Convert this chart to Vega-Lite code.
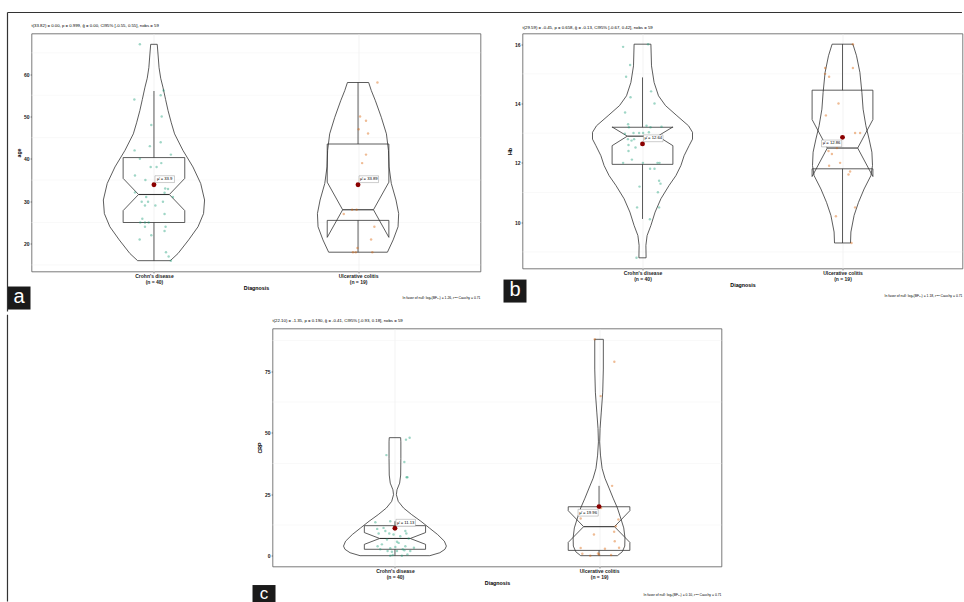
{
  "$schema": "https://vega.github.io/schema/vega-lite/v6.json",
  "padding": {"left": 5.5, "top": 10.5, "right": 0, "bottom": 0},
  "background": "white",
  "config": {
    "font": "Liberation Sans",
    "view": {"stroke": "#595959", "strokeWidth": 0.8},
    "axis": {
      "labelFont": "Liberation Sans", "labelFontSize": 5, "labelFontWeight": "bold", "labelColor": "#1a1a1a", "labelOverlap": false,
      "titleFont": "Liberation Sans", "titleFontSize": 5.3, "titleFontWeight": "bold", "titleColor": "#000000",
      "domain": false, "tickColor": "#333333", "tickSize": 1.5, "tickWidth": 0.5, "labelPadding": 1,
      "gridWidth": 0.6, "gridColor": "#e3e3e3"
    },
    "axisX": {"labelLineHeight": 6, "labelPadding": 0.5, "titlePadding": 1, "labelAngle": 0, "gridColor": "#ebebeb"},
    "axisY": {"titlePadding": 2}
  },
  "datasets": {
    "violins": [
      {"p":"a","g":1,"y":16.0,"l":0.920,"r":1.080},{"p":"a","g":1,"y":17.7,"l":0.882,"r":1.118},{"p":"a","g":1,"y":20.9,"l":0.830,"r":1.170},{"p":"a","g":1,"y":24.0,"l":0.784,"r":1.216},{"p":"a","g":1,"y":27.1,"l":0.757,"r":1.243},{"p":"a","g":1,"y":30.3,"l":0.752,"r":1.248},{"p":"a","g":1,"y":34.2,"l":0.771,"r":1.229},{"p":"a","g":1,"y":38.1,"l":0.809,"r":1.191},{"p":"a","g":1,"y":42.0,"l":0.858,"r":1.142},{"p":"a","g":1,"y":45.9,"l":0.899,"r":1.101},{"p":"a","g":1,"y":48.5,"l":0.915,"r":1.085},{"p":"a","g":1,"y":51.4,"l":0.931,"r":1.069},{"p":"a","g":1,"y":54.0,"l":0.943,"r":1.057},{"p":"a","g":1,"y":56.9,"l":0.956,"r":1.044},{"p":"a","g":1,"y":59.0,"l":0.967,"r":1.033},{"p":"a","g":1,"y":61.5,"l":0.975,"r":1.025},{"p":"a","g":1,"y":64.0,"l":0.979,"r":1.021},{"p":"a","g":1,"y":67.0,"l":0.984,"r":1.016},
      {"p":"a","g":2,"y":18.0,"l":1.856,"r":2.144},{"p":"a","g":2,"y":20.9,"l":1.828,"r":2.172},{"p":"a","g":2,"y":24.0,"l":1.804,"r":2.196},{"p":"a","g":2,"y":27.1,"l":1.801,"r":2.199},{"p":"a","g":2,"y":30.3,"l":1.814,"r":2.186},{"p":"a","g":2,"y":34.2,"l":1.837,"r":2.163},{"p":"a","g":2,"y":38.1,"l":1.848,"r":2.152},{"p":"a","g":2,"y":42.0,"l":1.851,"r":2.149},{"p":"a","g":2,"y":45.9,"l":1.861,"r":2.139},{"p":"a","g":2,"y":49.8,"l":1.886,"r":2.114},{"p":"a","g":2,"y":53.7,"l":1.915,"r":2.085},{"p":"a","g":2,"y":56.1,"l":1.935,"r":2.065},{"p":"a","g":2,"y":58.0,"l":1.948,"r":2.052},
      {"p":"b","g":1,"y":8.80,"l":0.982,"r":1.018},{"p":"b","g":1,"y":9.22,"l":0.983,"r":1.017},{"p":"b","g":1,"y":9.55,"l":0.977,"r":1.023},{"p":"b","g":1,"y":9.89,"l":0.958,"r":1.042},{"p":"b","g":1,"y":10.34,"l":0.937,"r":1.063},{"p":"b","g":1,"y":10.79,"l":0.908,"r":1.092},{"p":"b","g":1,"y":11.24,"l":0.867,"r":1.133},{"p":"b","g":1,"y":11.57,"l":0.833,"r":1.167},{"p":"b","g":1,"y":11.91,"l":0.808,"r":1.192},{"p":"b","g":1,"y":12.24,"l":0.792,"r":1.208},{"p":"b","g":1,"y":12.58,"l":0.767,"r":1.233},{"p":"b","g":1,"y":12.80,"l":0.750,"r":1.250},{"p":"b","g":1,"y":13.03,"l":0.750,"r":1.250},{"p":"b","g":1,"y":13.25,"l":0.770,"r":1.230},{"p":"b","g":1,"y":13.59,"l":0.828,"r":1.172},{"p":"b","g":1,"y":13.93,"l":0.885,"r":1.115},{"p":"b","g":1,"y":14.26,"l":0.920,"r":1.080},{"p":"b","g":1,"y":14.71,"l":0.942,"r":1.058},{"p":"b","g":1,"y":15.27,"l":0.955,"r":1.045},{"p":"b","g":1,"y":16.00,"l":0.958,"r":1.042},
      {"p":"b","g":2,"y":9.30,"l":1.960,"r":2.040},{"p":"b","g":2,"y":9.67,"l":1.958,"r":2.042},{"p":"b","g":2,"y":10.23,"l":1.942,"r":2.058},{"p":"b","g":2,"y":10.67,"l":1.920,"r":2.080},{"p":"b","g":2,"y":11.12,"l":1.892,"r":2.108},{"p":"b","g":2,"y":11.57,"l":1.858,"r":2.142},{"p":"b","g":2,"y":11.91,"l":1.850,"r":2.150},{"p":"b","g":2,"y":12.36,"l":1.853,"r":2.147},{"p":"b","g":2,"y":12.80,"l":1.867,"r":2.133},{"p":"b","g":2,"y":13.25,"l":1.883,"r":2.117},{"p":"b","g":2,"y":13.81,"l":1.897,"r":2.103},{"p":"b","g":2,"y":14.37,"l":1.903,"r":2.097},{"p":"b","g":2,"y":15.05,"l":1.913,"r":2.087},{"p":"b","g":2,"y":15.61,"l":1.930,"r":2.070},{"p":"b","g":2,"y":16.00,"l":1.948,"r":2.052},
      {"p":"c","g":1,"y":0.0,"l":0.829,"r":1.171},{"p":"c","g":1,"y":1.2,"l":0.780,"r":1.220},{"p":"c","g":1,"y":2.6,"l":0.755,"r":1.245},{"p":"c","g":1,"y":3.9,"l":0.748,"r":1.252},{"p":"c","g":1,"y":5.9,"l":0.758,"r":1.242},{"p":"c","g":1,"y":8.6,"l":0.791,"r":1.209},{"p":"c","g":1,"y":11.3,"l":0.832,"r":1.168},{"p":"c","g":1,"y":14.0,"l":0.873,"r":1.127},{"p":"c","g":1,"y":16.7,"l":0.918,"r":1.082},{"p":"c","g":1,"y":19.4,"l":0.958,"r":1.042},{"p":"c","g":1,"y":22.1,"l":0.984,"r":1.016},{"p":"c","g":1,"y":24.8,"l":0.993,"r":1.007},{"p":"c","g":1,"y":26.8,"l":0.990,"r":1.010},{"p":"c","g":1,"y":29.5,"l":0.977,"r":1.023},{"p":"c","g":1,"y":32.8,"l":0.972,"r":1.028},{"p":"c","g":1,"y":39.6,"l":0.971,"r":1.029},{"p":"c","g":1,"y":46.3,"l":0.971,"r":1.029},{"p":"c","g":1,"y":48.0,"l":0.972,"r":1.028},
      {"p":"c","g":2,"y":0.0,"l":1.910,"r":2.090},{"p":"c","g":2,"y":1.6,"l":1.886,"r":2.114},{"p":"c","g":2,"y":3.9,"l":1.874,"r":2.126},{"p":"c","g":2,"y":7.3,"l":1.873,"r":2.127},{"p":"c","g":2,"y":11.3,"l":1.879,"r":2.121},{"p":"c","g":2,"y":15.3,"l":1.894,"r":2.106},{"p":"c","g":2,"y":19.4,"l":1.910,"r":2.090},{"p":"c","g":2,"y":23.4,"l":1.931,"r":2.069},{"p":"c","g":2,"y":27.5,"l":1.951,"r":2.049},{"p":"c","g":2,"y":31.5,"l":1.971,"r":2.029},{"p":"c","g":2,"y":35.5,"l":1.985,"r":2.015},{"p":"c","g":2,"y":40.9,"l":1.993,"r":2.007},{"p":"c","g":2,"y":46.3,"l":1.997,"r":2.003},{"p":"c","g":2,"y":51.7,"l":1.995,"r":2.005},{"p":"c","g":2,"y":58.4,"l":1.989,"r":2.011},{"p":"c","g":2,"y":66.5,"l":1.982,"r":2.018},{"p":"c","g":2,"y":75.9,"l":1.979,"r":2.021},{"p":"c","g":2,"y":88.0,"l":1.979,"r":2.021}
    ],
    "boxes": [
      {"p":"a","g":1,"k":1,"bx":0.849,"by":25.0},{"p":"a","g":1,"k":2,"bx":0.849,"by":27.8},{"p":"a","g":1,"k":3,"bx":0.9245,"by":31.6},{"p":"a","g":1,"k":4,"bx":0.849,"by":35.4},{"p":"a","g":1,"k":5,"bx":0.849,"by":40.3},{"p":"a","g":1,"k":6,"bx":1.151,"by":40.3},{"p":"a","g":1,"k":7,"bx":1.151,"by":35.4},{"p":"a","g":1,"k":8,"bx":1.0755,"by":31.6},{"p":"a","g":1,"k":9,"bx":1.151,"by":27.8},{"p":"a","g":1,"k":10,"bx":1.151,"by":25.0},{"p":"a","g":1,"k":11,"bx":0.849,"by":25.0},
      {"p":"a","g":2,"k":1,"bx":1.849,"by":25.5},{"p":"a","g":2,"k":2,"bx":1.849,"by":21.5},{"p":"a","g":2,"k":3,"bx":1.9245,"by":28.0},{"p":"a","g":2,"k":4,"bx":1.849,"by":34.5},{"p":"a","g":2,"k":5,"bx":1.849,"by":43.5},{"p":"a","g":2,"k":6,"bx":2.151,"by":43.5},{"p":"a","g":2,"k":7,"bx":2.151,"by":34.5},{"p":"a","g":2,"k":8,"bx":2.0755,"by":28.0},{"p":"a","g":2,"k":9,"bx":2.151,"by":21.5},{"p":"a","g":2,"k":10,"bx":2.151,"by":25.5},{"p":"a","g":2,"k":11,"bx":1.849,"by":25.5},
      {"p":"b","g":1,"k":1,"bx":0.848,"by":11.95},{"p":"b","g":1,"k":2,"bx":0.848,"by":12.58},{"p":"b","g":1,"k":3,"bx":0.924,"by":12.9},{"p":"b","g":1,"k":4,"bx":0.848,"by":13.21},{"p":"b","g":1,"k":5,"bx":0.848,"by":13.2},{"p":"b","g":1,"k":6,"bx":1.152,"by":13.2},{"p":"b","g":1,"k":7,"bx":1.152,"by":13.21},{"p":"b","g":1,"k":8,"bx":1.076,"by":12.9},{"p":"b","g":1,"k":9,"bx":1.152,"by":12.58},{"p":"b","g":1,"k":10,"bx":1.152,"by":11.95},{"p":"b","g":1,"k":11,"bx":0.848,"by":11.95},
      {"p":"b","g":2,"k":1,"bx":1.848,"by":11.8},{"p":"b","g":2,"k":2,"bx":1.848,"by":11.54},{"p":"b","g":2,"k":3,"bx":1.924,"by":12.5},{"p":"b","g":2,"k":4,"bx":1.848,"by":13.46},{"p":"b","g":2,"k":5,"bx":1.848,"by":14.45},{"p":"b","g":2,"k":6,"bx":2.152,"by":14.45},{"p":"b","g":2,"k":7,"bx":2.152,"by":13.46},{"p":"b","g":2,"k":8,"bx":2.076,"by":12.5},{"p":"b","g":2,"k":9,"bx":2.152,"by":11.54},{"p":"b","g":2,"k":10,"bx":2.152,"by":11.8},{"p":"b","g":2,"k":11,"bx":1.848,"by":11.8},
      {"p":"c","g":1,"k":1,"bx":0.85,"by":2.6},{"p":"c","g":1,"k":2,"bx":0.85,"by":4.6},{"p":"c","g":1,"k":3,"bx":0.925,"by":7.0},{"p":"c","g":1,"k":4,"bx":0.85,"by":9.4},{"p":"c","g":1,"k":5,"bx":0.85,"by":12.2},{"p":"c","g":1,"k":6,"bx":1.15,"by":12.2},{"p":"c","g":1,"k":7,"bx":1.15,"by":9.4},{"p":"c","g":1,"k":8,"bx":1.075,"by":7.0},{"p":"c","g":1,"k":9,"bx":1.15,"by":4.6},{"p":"c","g":1,"k":10,"bx":1.15,"by":2.6},{"p":"c","g":1,"k":11,"bx":0.85,"by":2.6},
      {"p":"c","g":2,"k":1,"bx":1.849,"by":2.15},{"p":"c","g":2,"k":2,"bx":1.849,"by":5.4},{"p":"c","g":2,"k":3,"bx":1.9245,"by":11.8},{"p":"c","g":2,"k":4,"bx":1.849,"by":18.3},{"p":"c","g":2,"k":5,"bx":1.849,"by":19.9},{"p":"c","g":2,"k":6,"bx":2.151,"by":19.9},{"p":"c","g":2,"k":7,"bx":2.151,"by":18.3},{"p":"c","g":2,"k":8,"bx":2.0755,"by":11.8},{"p":"c","g":2,"k":9,"bx":2.151,"by":5.4},{"p":"c","g":2,"k":10,"bx":2.151,"by":2.15},{"p":"c","g":2,"k":11,"bx":1.849,"by":2.15}
    ],
    "stats": [
      {"p":"a","g":1,"c":1,"q1":25.0,"q3":40.3,"med":31.6,"wlo":16.0,"whi":56.0,"ml":0.9245,"mr":1.0755,"mean":33.9,"lab":"μ̂ = 33.9"},
      {"p":"a","g":2,"c":2,"q1":25.5,"q3":43.5,"med":28.0,"wlo":18.0,"whi":58.0,"ml":1.9245,"mr":2.0755,"mean":33.89,"lab":"μ̂ = 33.89"},
      {"p":"b","g":1,"c":1,"q1":11.95,"q3":13.2,"med":12.9,"wlo":10.11,"whi":14.88,"ml":0.924,"mr":1.076,"mean":12.64,"lab":"μ̂ = 12.64"},
      {"p":"b","g":2,"c":2,"q1":11.8,"q3":14.45,"med":12.5,"wlo":9.3,"whi":16.0,"ml":1.924,"mr":2.076,"mean":12.86,"lab":"μ̂ = 12.86"},
      {"p":"c","g":1,"c":1,"q1":2.6,"q3":12.2,"med":7.0,"wlo":0.0,"whi":14.0,"ml":0.925,"mr":1.075,"mean":11.13,"lab":"μ̂ = 11.13"},
      {"p":"c","g":2,"c":2,"q1":2.15,"q3":19.9,"med":11.8,"wlo":0.0,"whi":28.4,"ml":1.9245,"mr":2.0755,"mean":19.96,"lab":"μ̂ = 19.96"}
    ],
    "points": [
      {"p":"a","g":1,"xj":0.931,"v":67.0},{"p":"a","g":1,"xj":0.904,"v":54.0},{"p":"a","g":1,"xj":1.047,"v":56.1},{"p":"a","g":1,"xj":1.033,"v":55.0},{"p":"a","g":1,"xj":1.038,"v":50.0},{"p":"a","g":1,"xj":0.987,"v":48.0},{"p":"a","g":1,"xj":0.980,"v":43.0},{"p":"a","g":1,"xj":1.033,"v":43.9},{"p":"a","g":1,"xj":1.083,"v":41.0},{"p":"a","g":1,"xj":0.905,"v":42.0},{"p":"a","g":1,"xj":0.931,"v":40.0},{"p":"a","g":1,"xj":1.036,"v":39.0},{"p":"a","g":1,"xj":0.984,"v":38.1},{"p":"a","g":1,"xj":1.013,"v":38.1},{"p":"a","g":1,"xj":0.907,"v":36.1},{"p":"a","g":1,"xj":0.958,"v":35.0},{"p":"a","g":1,"xj":1.069,"v":32.9},{"p":"a","g":1,"xj":0.907,"v":32.1},{"p":"a","g":1,"xj":1.093,"v":31.0},{"p":"a","g":1,"xj":0.962,"v":31.0},{"p":"a","g":1,"xj":0.971,"v":29.9},{"p":"a","g":1,"xj":0.940,"v":29.9},{"p":"a","g":1,"xj":1.044,"v":29.9},{"p":"a","g":1,"xj":0.956,"v":29.0},{"p":"a","g":1,"xj":1.007,"v":29.0},{"p":"a","g":1,"xj":1.052,"v":27.0},{"p":"a","g":1,"xj":0.943,"v":25.9},{"p":"a","g":1,"xj":0.933,"v":25.0},{"p":"a","g":1,"xj":0.956,"v":25.0},{"p":"a","g":1,"xj":0.974,"v":25.0},{"p":"a","g":1,"xj":0.956,"v":24.0},{"p":"a","g":1,"xj":1.057,"v":24.0},{"p":"a","g":1,"xj":1.052,"v":23.0},{"p":"a","g":1,"xj":0.987,"v":22.0},{"p":"a","g":1,"xj":0.930,"v":21.0},{"p":"a","g":1,"xj":1.059,"v":18.0},{"p":"a","g":1,"xj":1.072,"v":17.0},{"p":"a","g":1,"xj":1.083,"v":16.0},{"p":"a","g":1,"xj":1.052,"v":32.0},{"p":"a","g":1,"xj":1.055,"v":33.0},
      {"p":"a","g":2,"xj":2.095,"v":58.0},{"p":"a","g":2,"xj":2.010,"v":50.0},{"p":"a","g":2,"xj":2.039,"v":49.0},{"p":"a","g":2,"xj":2.003,"v":47.0},{"p":"a","g":2,"xj":2.049,"v":46.0},{"p":"a","g":2,"xj":2.039,"v":41.0},{"p":"a","g":2,"xj":2.020,"v":39.0},{"p":"a","g":2,"xj":1.930,"v":27.0},{"p":"a","g":2,"xj":1.971,"v":28.0},{"p":"a","g":2,"xj":1.993,"v":28.0},{"p":"a","g":2,"xj":2.080,"v":24.0},{"p":"a","g":2,"xj":2.064,"v":21.0},{"p":"a","g":2,"xj":1.997,"v":19.0},{"p":"a","g":2,"xj":1.989,"v":18.0},{"p":"a","g":2,"xj":2.070,"v":18.0},{"p":"a","g":2,"xj":1.975,"v":18.0},
      {"p":"b","g":1,"xj":0.903,"v":15.91},{"p":"b","g":1,"xj":0.938,"v":15.30},{"p":"b","g":1,"xj":0.918,"v":14.90},{"p":"b","g":1,"xj":1.043,"v":14.41},{"p":"b","g":1,"xj":0.940,"v":14.21},{"p":"b","g":1,"xj":1.060,"v":14.00},{"p":"b","g":1,"xj":0.913,"v":13.70},{"p":"b","g":1,"xj":0.928,"v":13.30},{"p":"b","g":1,"xj":0.932,"v":13.20},{"p":"b","g":1,"xj":1.040,"v":13.20},{"p":"b","g":1,"xj":1.095,"v":13.22},{"p":"b","g":1,"xj":0.983,"v":13.01},{"p":"b","g":1,"xj":1.003,"v":13.01},{"p":"b","g":1,"xj":1.032,"v":13.03},{"p":"b","g":1,"xj":0.912,"v":12.98},{"p":"b","g":1,"xj":0.955,"v":13.01},{"p":"b","g":1,"xj":0.927,"v":12.80},{"p":"b","g":1,"xj":0.930,"v":12.60},{"p":"b","g":1,"xj":0.930,"v":12.40},{"p":"b","g":1,"xj":0.947,"v":12.11},{"p":"b","g":1,"xj":0.903,"v":12.00},{"p":"b","g":1,"xj":1.002,"v":12.00},{"p":"b","g":1,"xj":1.075,"v":12.00},{"p":"b","g":1,"xj":1.085,"v":12.00},{"p":"b","g":1,"xj":1.038,"v":11.80},{"p":"b","g":1,"xj":1.060,"v":11.80},{"p":"b","g":1,"xj":1.083,"v":11.40},{"p":"b","g":1,"xj":1.090,"v":11.30},{"p":"b","g":1,"xj":0.985,"v":11.20},{"p":"b","g":1,"xj":1.077,"v":11.01},{"p":"b","g":1,"xj":0.973,"v":10.50},{"p":"b","g":1,"xj":1.083,"v":10.50},{"p":"b","g":1,"xj":1.037,"v":10.10},{"p":"b","g":1,"xj":0.970,"v":8.80},{"p":"b","g":1,"xj":1.028,"v":16.00},{"p":"b","g":1,"xj":0.958,"v":12.80},{"p":"b","g":1,"xj":1.020,"v":13.25},{"p":"b","g":1,"xj":1.053,"v":12.86},{"p":"b","g":1,"xj":0.945,"v":12.75},{"p":"b","g":1,"xj":0.965,"v":12.52},
      {"p":"b","g":2,"xj":2.052,"v":16.0},{"p":"b","g":2,"xj":1.913,"v":15.20},{"p":"b","g":2,"xj":2.052,"v":15.20},{"p":"b","g":2,"xj":1.913,"v":15.00},{"p":"b","g":2,"xj":1.933,"v":14.90},{"p":"b","g":2,"xj":1.980,"v":14.00},{"p":"b","g":2,"xj":1.917,"v":13.60},{"p":"b","g":2,"xj":2.063,"v":13.01},{"p":"b","g":2,"xj":2.088,"v":13.01},{"p":"b","g":2,"xj":1.972,"v":12.50},{"p":"b","g":2,"xj":1.930,"v":12.40},{"p":"b","g":2,"xj":1.947,"v":12.30},{"p":"b","g":2,"xj":1.988,"v":12.00},{"p":"b","g":2,"xj":1.933,"v":11.90},{"p":"b","g":2,"xj":2.038,"v":11.71},{"p":"b","g":2,"xj":2.030,"v":11.61},{"p":"b","g":2,"xj":2.063,"v":10.50},{"p":"b","g":2,"xj":1.967,"v":10.20},{"p":"b","g":2,"xj":2.045,"v":9.30},
      {"p":"c","g":1,"xj":1.072,"v":48.0},{"p":"c","g":1,"xj":1.054,"v":47.2},{"p":"c","g":1,"xj":0.958,"v":40.9},{"p":"c","g":1,"xj":1.046,"v":38.1},{"p":"c","g":1,"xj":1.057,"v":31.9},{"p":"c","g":1,"xj":1.061,"v":31.9},{"p":"c","g":1,"xj":0.904,"v":13.6},{"p":"c","g":1,"xj":0.977,"v":14.0},{"p":"c","g":1,"xj":1.010,"v":12.7},{"p":"c","g":1,"xj":0.913,"v":10.9},{"p":"c","g":1,"xj":0.920,"v":9.0},{"p":"c","g":1,"xj":0.972,"v":9.0},{"p":"c","g":1,"xj":1.056,"v":9.0},{"p":"c","g":1,"xj":1.067,"v":7.0},{"p":"c","g":1,"xj":1.010,"v":5.7},{"p":"c","g":1,"xj":1.018,"v":5.2},{"p":"c","g":1,"xj":0.915,"v":3.8},{"p":"c","g":1,"xj":1.051,"v":3.8},{"p":"c","g":1,"xj":1.093,"v":3.2},{"p":"c","g":1,"xj":0.964,"v":1.9},{"p":"c","g":1,"xj":1.010,"v":1.9},{"p":"c","g":1,"xj":1.046,"v":2.2},{"p":"c","g":1,"xj":0.985,"v":1.6},{"p":"c","g":1,"xj":0.977,"v":0.0},{"p":"c","g":1,"xj":0.989,"v":0.3},{"p":"c","g":1,"xj":1.061,"v":0.5},{"p":"c","g":1,"xj":1.075,"v":1.9},{"p":"c","g":1,"xj":1.038,"v":2.6},{"p":"c","g":1,"xj":0.936,"v":4.6},{"p":"c","g":1,"xj":0.953,"v":10.0},{"p":"c","g":1,"xj":0.993,"v":8.6},{"p":"c","g":1,"xj":1.026,"v":7.9},{"p":"c","g":1,"xj":0.928,"v":2.6},{"p":"c","g":1,"xj":0.961,"v":6.6},{"p":"c","g":1,"xj":1.018,"v":14.0},{"p":"c","g":1,"xj":0.944,"v":11.3},{"p":"c","g":1,"xj":1.051,"v":10.0},{"p":"c","g":1,"xj":1.002,"v":3.5},{"p":"c","g":1,"xj":0.977,"v":3.0},{"p":"c","g":1,"xj":1.034,"v":0.0},
      {"p":"c","g":2,"xj":1.979,"v":88.0},{"p":"c","g":2,"xj":2.075,"v":78.9},{"p":"c","g":2,"xj":2.008,"v":64.9},{"p":"c","g":2,"xj":2.064,"v":28.4},{"p":"c","g":2,"xj":2.010,"v":19.4},{"p":"c","g":2,"xj":1.910,"v":15.1},{"p":"c","g":2,"xj":2.095,"v":14.7},{"p":"c","g":2,"xj":2.082,"v":12.0},{"p":"c","g":2,"xj":2.074,"v":9.7},{"p":"c","g":2,"xj":2.077,"v":5.9},{"p":"c","g":2,"xj":1.910,"v":3.1},{"p":"c","g":2,"xj":2.029,"v":2.8},{"p":"c","g":2,"xj":1.918,"v":0.8},{"p":"c","g":2,"xj":1.995,"v":0.9},{"p":"c","g":2,"xj":1.957,"v":0.0},{"p":"c","g":2,"xj":2.059,"v":0.3},{"p":"c","g":2,"xj":2.000,"v":0.5},{"p":"c","g":2,"xj":1.975,"v":8.6},{"p":"c","g":2,"xj":2.098,"v":3.2}
    ],
    "notes": [
      {"p":"a","tag":"a","sub":"t(33.82) = 0.00, p = 0.999, ĝ = 0.00, CI95% [-0.55, 0.55], nobs = 59","caption":"In favor of null: logₑ(BF₀₁) = 1.26, rᴶᶻˢ Cauchy = 0.71"},
      {"p":"b","tag":"b","sub":"t(29.59) = -0.45, p = 0.658, ĝ = -0.13, CI95% [-0.67, 0.42], nobs = 59","caption":"In favor of null: logₑ(BF₀₁) = 1.18, rᴶᶻˢ Cauchy = 0.71"},
      {"p":"c","tag":"c","sub":"t(22.10) = -1.35, p = 0.190, ĝ = -0.41, CI95% [-0.93, 0.18], nobs = 59","caption":"In favor of null: logₑ(BF₀₁) = 0.10, rᴶᶻˢ Cauchy = 0.71"}
    ]
  },
  "vconcat": [
    {
      "hconcat": [
        {
          "width": 449, "height": 238,
          "data": {"name": "notes"},
          "layer": [
            {"transform": [{"filter": "datum.p == 'a'"}], "mark": {"type": "rule", "stroke": "#f3f3f3", "strokeWidth": 0.5}, "encoding": {"y": {"datum": 15, "type": "quantitative"}}},
            {"transform": [{"filter": "datum.p == 'a'"}], "mark": {"type": "rule", "stroke": "#f3f3f3", "strokeWidth": 0.5}, "encoding": {"y": {"datum": 25, "type": "quantitative"}}},
            {"transform": [{"filter": "datum.p == 'a'"}], "mark": {"type": "rule", "stroke": "#f3f3f3", "strokeWidth": 0.5}, "encoding": {"y": {"datum": 35, "type": "quantitative"}}},
            {"transform": [{"filter": "datum.p == 'a'"}], "mark": {"type": "rule", "stroke": "#f3f3f3", "strokeWidth": 0.5}, "encoding": {"y": {"datum": 45, "type": "quantitative"}}},
            {"transform": [{"filter": "datum.p == 'a'"}], "mark": {"type": "rule", "stroke": "#f3f3f3", "strokeWidth": 0.5}, "encoding": {"y": {"datum": 55, "type": "quantitative"}}},
            {"transform": [{"filter": "datum.p == 'a'"}], "mark": {"type": "rule", "stroke": "#f3f3f3", "strokeWidth": 0.5}, "encoding": {"y": {"datum": 65, "type": "quantitative"}}},
            {"data": {"name": "violins"}, "transform": [{"filter": "datum.p == 'a'"}],
             "mark": {"type": "area", "orient": "horizontal", "fillOpacity": 0, "stroke": "#333333", "strokeWidth": 0.8},
             "encoding": {
               "y": {"field": "y", "type": "quantitative", "scale": {"domain": [13.45, 69.55], "nice": false, "zero": false},
                     "axis": {"title": "age", "values": [20, 30, 40, 50, 60], "labelOverlap": false, "format": "d"}},
               "x": {"field": "l", "type": "quantitative", "stack": null, "scale": {"domain": [0.4, 2.6], "nice": false, "zero": false},
                     "axis": {"title": "Diagnosis", "values": [1, 2], "labelOverlap": false, "labelExpr": "datum.value == 1 ? [\"Crohn's disease\", \"(n = 40)\"] : [\"Ulcerative colitis\", \"(n = 19)\"]"}},
               "x2": {"field": "r"},
               "detail": {"field": "g"}
             }},
            {"data": {"name": "boxes"}, "transform": [{"filter": "datum.p == 'a'"}],
             "mark": {"type": "line", "stroke": "#333333", "strokeWidth": 0.8},
             "encoding": {"x": {"field": "bx", "type": "quantitative"}, "y": {"field": "by", "type": "quantitative"}, "order": {"field": "k"}, "detail": {"field": "g"}}},
            {"data": {"name": "stats"}, "transform": [{"filter": "datum.p == 'a'"}],
             "mark": {"type": "rule", "stroke": "#333333", "strokeWidth": 0.8},
             "encoding": {"x": {"field": "c", "type": "quantitative"}, "y": {"field": "wlo", "type": "quantitative"}, "y2": {"field": "q1"}}},
            {"data": {"name": "stats"}, "transform": [{"filter": "datum.p == 'a'"}],
             "mark": {"type": "rule", "stroke": "#333333", "strokeWidth": 0.8},
             "encoding": {"x": {"field": "c", "type": "quantitative"}, "y": {"field": "q3", "type": "quantitative"}, "y2": {"field": "whi"}}},
            {"data": {"name": "stats"}, "transform": [{"filter": "datum.p == 'a'"}],
             "mark": {"type": "rule", "stroke": "#333333", "strokeWidth": 1.1},
             "encoding": {"x": {"field": "ml", "type": "quantitative"}, "x2": {"field": "mr"}, "y": {"field": "med", "type": "quantitative"}}},
            {"data": {"name": "points"}, "transform": [{"filter": "datum.p == 'a'"}],
             "mark": {"type": "circle", "size": 6, "opacity": 0.42},
             "encoding": {"x": {"field": "xj", "type": "quantitative"}, "y": {"field": "v", "type": "quantitative"},
                          "color": {"field": "g", "type": "nominal", "scale": {"domain": [1, 2], "range": ["#1B9E77", "#D95F02"]}, "legend": null}}},
            {"data": {"name": "stats"}, "transform": [{"filter": "datum.p == 'a'"}],
             "mark": {"type": "circle", "size": 24, "color": "#8B0000", "opacity": 1},
             "encoding": {"x": {"field": "c", "type": "quantitative"}, "y": {"field": "mean", "type": "quantitative"}}},
            {"data": {"name": "stats"}, "transform": [{"filter": "datum.p == 'a'"}],
             "mark": {"type": "point", "shape": "M0.1,-0.9L2.05,-0.9L2.05,-0.22L0.1,-0.22Z", "size": 400, "filled": true, "fill": "white", "stroke": "#808080", "strokeWidth": 0.4, "opacity": 1},
             "encoding": {"x": {"field": "c", "type": "quantitative"}, "y": {"field": "mean", "type": "quantitative"}}},
            {"data": {"name": "stats"}, "transform": [{"filter": "datum.p == 'a'"}],
             "mark": {"type": "text", "dx": 10.8, "dy": -5.6, "fontSize": 4.2, "align": "center", "baseline": "middle", "color": "#000000"},
             "encoding": {"x": {"field": "c", "type": "quantitative"}, "y": {"field": "mean", "type": "quantitative"}, "text": {"field": "lab"}}},
            {"transform": [{"filter": "datum.p == 'a'"}],
             "mark": {"type": "text", "fontSize": 4.3, "color": "#000000", "align": "left", "baseline": "middle"},
             "encoding": {"x": {"datum": 0.4, "type": "quantitative"}, "y": {"datum": 71.32, "type": "quantitative"}, "text": {"field": "sub"}}},
            {"transform": [{"filter": "datum.p == 'a'"}],
             "mark": {"type": "point", "shape": "square", "size": 529, "filled": true, "color": "#1a1a1a", "opacity": 1},
             "encoding": {"x": {"datum": 0.3388, "type": "quantitative"}, "y": {"datum": 7.2, "type": "quantitative"}}},
            {"transform": [{"filter": "datum.p == 'a'"}],
             "mark": {"type": "text", "fontSize": 20, "color": "white", "align": "center", "baseline": "middle", "dy": -1},
             "encoding": {"x": {"datum": 0.3388, "type": "quantitative"}, "y": {"datum": 7.2, "type": "quantitative"}, "text": {"field": "tag"}}},
            {"transform": [{"filter": "datum.p == 'a'"}],
             "mark": {"type": "text", "fontSize": 3.4, "color": "#000000", "align": "right", "baseline": "middle"},
             "encoding": {"x": {"datum": 2.6, "type": "quantitative"}, "y": {"datum": 7.32, "type": "quantitative"}, "text": {"field": "caption"}}},
            {"transform": [{"filter": "datum.p == 'a'"}],
             "mark": {"type": "rule", "stroke": "#333333", "strokeWidth": 1.2},
             "encoding": {"x": {"datum": 0.2824, "type": "quantitative"}, "x2": {"datum": 4.959}, "y": {"datum": 74.5, "type": "quantitative"}}},
            {"transform": [{"filter": "datum.p == 'a'"}],
             "mark": {"type": "rule", "stroke": "#333333", "strokeWidth": 1.2},
             "encoding": {"x": {"datum": 0.2824, "type": "quantitative"}, "y": {"datum": 74.5, "type": "quantitative"}, "y2": {"datum": 4.02}}}
          ]
        },
        {
          "width": 440, "height": 235,
          "data": {"name": "notes"},
          "layer": [
            {"transform": [{"filter": "datum.p == 'b'"}], "mark": {"type": "rule", "stroke": "#f3f3f3", "strokeWidth": 0.5}, "encoding": {"y": {"datum": 9, "type": "quantitative"}}},
            {"transform": [{"filter": "datum.p == 'b'"}], "mark": {"type": "rule", "stroke": "#f3f3f3", "strokeWidth": 0.5}, "encoding": {"y": {"datum": 11, "type": "quantitative"}}},
            {"transform": [{"filter": "datum.p == 'b'"}], "mark": {"type": "rule", "stroke": "#f3f3f3", "strokeWidth": 0.5}, "encoding": {"y": {"datum": 13, "type": "quantitative"}}},
            {"transform": [{"filter": "datum.p == 'b'"}], "mark": {"type": "rule", "stroke": "#f3f3f3", "strokeWidth": 0.5}, "encoding": {"y": {"datum": 15, "type": "quantitative"}}},
            {"data": {"name": "violins"}, "transform": [{"filter": "datum.p == 'b'"}],
             "mark": {"type": "area", "orient": "horizontal", "fillOpacity": 0, "stroke": "#333333", "strokeWidth": 0.8},
             "encoding": {
               "y": {"field": "y", "type": "quantitative", "scale": {"domain": [8.44, 16.36], "nice": false, "zero": false},
                     "axis": {"title": "Hb", "values": [10, 12, 14, 16], "labelOverlap": false, "format": "d"}},
               "x": {"field": "l", "type": "quantitative", "stack": null, "scale": {"domain": [0.4, 2.6], "nice": false, "zero": false},
                     "axis": {"title": "Diagnosis", "values": [1, 2], "labelOverlap": false, "labelExpr": "datum.value == 1 ? [\"Crohn's disease\", \"(n = 40)\"] : [\"Ulcerative colitis\", \"(n = 19)\"]"}},
               "x2": {"field": "r"},
               "detail": {"field": "g"}
             }},
            {"data": {"name": "boxes"}, "transform": [{"filter": "datum.p == 'b'"}],
             "mark": {"type": "line", "stroke": "#333333", "strokeWidth": 0.8},
             "encoding": {"x": {"field": "bx", "type": "quantitative"}, "y": {"field": "by", "type": "quantitative"}, "order": {"field": "k"}, "detail": {"field": "g"}}},
            {"data": {"name": "stats"}, "transform": [{"filter": "datum.p == 'b'"}],
             "mark": {"type": "rule", "stroke": "#333333", "strokeWidth": 0.8},
             "encoding": {"x": {"field": "c", "type": "quantitative"}, "y": {"field": "wlo", "type": "quantitative"}, "y2": {"field": "q1"}}},
            {"data": {"name": "stats"}, "transform": [{"filter": "datum.p == 'b'"}],
             "mark": {"type": "rule", "stroke": "#333333", "strokeWidth": 0.8},
             "encoding": {"x": {"field": "c", "type": "quantitative"}, "y": {"field": "q3", "type": "quantitative"}, "y2": {"field": "whi"}}},
            {"data": {"name": "stats"}, "transform": [{"filter": "datum.p == 'b'"}],
             "mark": {"type": "rule", "stroke": "#333333", "strokeWidth": 1.1},
             "encoding": {"x": {"field": "ml", "type": "quantitative"}, "x2": {"field": "mr"}, "y": {"field": "med", "type": "quantitative"}}},
            {"data": {"name": "points"}, "transform": [{"filter": "datum.p == 'b'"}],
             "mark": {"type": "circle", "size": 6, "opacity": 0.42},
             "encoding": {"x": {"field": "xj", "type": "quantitative"}, "y": {"field": "v", "type": "quantitative"},
                          "color": {"field": "g", "type": "nominal", "scale": {"domain": [1, 2], "range": ["#1B9E77", "#D95F02"]}, "legend": null}}},
            {"data": {"name": "stats"}, "transform": [{"filter": "datum.p == 'b'"}],
             "mark": {"type": "circle", "size": 24, "color": "#8B0000", "opacity": 1},
             "encoding": {"x": {"field": "c", "type": "quantitative"}, "y": {"field": "mean", "type": "quantitative"}}},
            {"data": {"name": "stats"}, "transform": [{"filter": "datum.p == 'b' && datum.g == 1"}],
             "mark": {"type": "point", "shape": "M0.1,-0.9L2.05,-0.9L2.05,-0.22L0.1,-0.22Z", "size": 400, "filled": true, "fill": "white", "stroke": "#808080", "strokeWidth": 0.4, "opacity": 1},
             "encoding": {"x": {"field": "c", "type": "quantitative"}, "y": {"field": "mean", "type": "quantitative"}}},
            {"data": {"name": "stats"}, "transform": [{"filter": "datum.p == 'b' && datum.g == 1"}],
             "mark": {"type": "text", "dx": 10.8, "dy": -5.6, "fontSize": 4.2, "align": "center", "baseline": "middle", "color": "#000000"},
             "encoding": {"x": {"field": "c", "type": "quantitative"}, "y": {"field": "mean", "type": "quantitative"}, "text": {"field": "lab"}}},
            {"data": {"name": "stats"}, "transform": [{"filter": "datum.p == 'b' && datum.g == 2"}],
             "mark": {"type": "point", "shape": "M-2.1,0.27L-0.08,0.27L-0.08,0.95L-2.1,0.95Z", "size": 400, "filled": true, "fill": "white", "stroke": "#808080", "strokeWidth": 0.4, "opacity": 1},
             "encoding": {"x": {"field": "c", "type": "quantitative"}, "y": {"field": "mean", "type": "quantitative"}}},
            {"data": {"name": "stats"}, "transform": [{"filter": "datum.p == 'b' && datum.g == 2"}],
             "mark": {"type": "text", "dx": -10.9, "dy": 6.1, "fontSize": 4.2, "align": "center", "baseline": "middle", "color": "#000000"},
             "encoding": {"x": {"field": "c", "type": "quantitative"}, "y": {"field": "mean", "type": "quantitative"}, "text": {"field": "lab"}}},
            {"transform": [{"filter": "datum.p == 'b'"}],
             "mark": {"type": "text", "fontSize": 4.3, "color": "#000000", "align": "left", "baseline": "middle"},
             "encoding": {"x": {"datum": 0.4, "type": "quantitative"}, "y": {"datum": 16.55, "type": "quantitative"}, "text": {"field": "sub"}}},
            {"transform": [{"filter": "datum.p == 'b'"}],
             "mark": {"type": "point", "shape": "square", "size": 529, "filled": true, "color": "#1a1a1a", "opacity": 1},
             "encoding": {"x": {"datum": 0.3625, "type": "quantitative"}, "y": {"datum": 7.68, "type": "quantitative"}}},
            {"transform": [{"filter": "datum.p == 'b'"}],
             "mark": {"type": "text", "fontSize": 20, "color": "white", "align": "center", "baseline": "middle", "dy": -1},
             "encoding": {"x": {"datum": 0.3625, "type": "quantitative"}, "y": {"datum": 7.68, "type": "quantitative"}, "text": {"field": "tag"}}},
            {"transform": [{"filter": "datum.p == 'b'"}],
             "mark": {"type": "text", "fontSize": 3.4, "color": "#000000", "align": "right", "baseline": "middle"},
             "encoding": {"x": {"datum": 2.6, "type": "quantitative"}, "y": {"datum": 7.5, "type": "quantitative"}, "text": {"field": "caption"}}}
          ]
        }
      ],
      "spacing": 42,
      "bounds": "flush"
    },
    {
      "hconcat": [
        {
          "width": 199, "height": 238,
          "view": {"stroke": null},
          "data": {"values": []},
          "mark": {"type": "point", "opacity": 0}
        },
        {
          "width": 449, "height": 238,
          "data": {"name": "notes"},
          "layer": [
            {"transform": [{"filter": "datum.p == 'c'"}], "mark": {"type": "rule", "stroke": "#f3f3f3", "strokeWidth": 0.5}, "encoding": {"y": {"datum": 12.5, "type": "quantitative"}}},
            {"transform": [{"filter": "datum.p == 'c'"}], "mark": {"type": "rule", "stroke": "#f3f3f3", "strokeWidth": 0.5}, "encoding": {"y": {"datum": 37.5, "type": "quantitative"}}},
            {"transform": [{"filter": "datum.p == 'c'"}], "mark": {"type": "rule", "stroke": "#f3f3f3", "strokeWidth": 0.5}, "encoding": {"y": {"datum": 62.5, "type": "quantitative"}}},
            {"transform": [{"filter": "datum.p == 'c'"}], "mark": {"type": "rule", "stroke": "#f3f3f3", "strokeWidth": 0.5}, "encoding": {"y": {"datum": 87.5, "type": "quantitative"}}},
            {"data": {"name": "violins"}, "transform": [{"filter": "datum.p == 'c'"}],
             "mark": {"type": "area", "orient": "horizontal", "fillOpacity": 0, "stroke": "#333333", "strokeWidth": 0.8},
             "encoding": {
               "y": {"field": "y", "type": "quantitative", "scale": {"domain": [-4.4, 92.4], "nice": false, "zero": false},
                     "axis": {"title": "CRP", "values": [0, 25, 50, 75], "labelOverlap": false, "format": "d"}},
               "x": {"field": "l", "type": "quantitative", "stack": null, "scale": {"domain": [0.4, 2.6], "nice": false, "zero": false},
                     "axis": {"title": "Diagnosis", "values": [1, 2], "labelOverlap": false, "labelExpr": "datum.value == 1 ? [\"Crohn's disease\", \"(n = 40)\"] : [\"Ulcerative colitis\", \"(n = 19)\"]"}},
               "x2": {"field": "r"},
               "detail": {"field": "g"}
             }},
            {"data": {"name": "boxes"}, "transform": [{"filter": "datum.p == 'c'"}],
             "mark": {"type": "line", "stroke": "#333333", "strokeWidth": 0.8},
             "encoding": {"x": {"field": "bx", "type": "quantitative"}, "y": {"field": "by", "type": "quantitative"}, "order": {"field": "k"}, "detail": {"field": "g"}}},
            {"data": {"name": "stats"}, "transform": [{"filter": "datum.p == 'c'"}],
             "mark": {"type": "rule", "stroke": "#333333", "strokeWidth": 0.8},
             "encoding": {"x": {"field": "c", "type": "quantitative"}, "y": {"field": "wlo", "type": "quantitative"}, "y2": {"field": "q1"}}},
            {"data": {"name": "stats"}, "transform": [{"filter": "datum.p == 'c'"}],
             "mark": {"type": "rule", "stroke": "#333333", "strokeWidth": 0.8},
             "encoding": {"x": {"field": "c", "type": "quantitative"}, "y": {"field": "q3", "type": "quantitative"}, "y2": {"field": "whi"}}},
            {"data": {"name": "stats"}, "transform": [{"filter": "datum.p == 'c'"}],
             "mark": {"type": "rule", "stroke": "#333333", "strokeWidth": 1.1},
             "encoding": {"x": {"field": "ml", "type": "quantitative"}, "x2": {"field": "mr"}, "y": {"field": "med", "type": "quantitative"}}},
            {"data": {"name": "points"}, "transform": [{"filter": "datum.p == 'c'"}],
             "mark": {"type": "circle", "size": 6, "opacity": 0.42},
             "encoding": {"x": {"field": "xj", "type": "quantitative"}, "y": {"field": "v", "type": "quantitative"},
                          "color": {"field": "g", "type": "nominal", "scale": {"domain": [1, 2], "range": ["#1B9E77", "#D95F02"]}, "legend": null}}},
            {"data": {"name": "stats"}, "transform": [{"filter": "datum.p == 'c'"}],
             "mark": {"type": "circle", "size": 24, "color": "#8B0000", "opacity": 1},
             "encoding": {"x": {"field": "c", "type": "quantitative"}, "y": {"field": "mean", "type": "quantitative"}}},
            {"data": {"name": "stats"}, "transform": [{"filter": "datum.p == 'c' && datum.g == 1"}],
             "mark": {"type": "point", "shape": "M0.1,-0.9L2.05,-0.9L2.05,-0.22L0.1,-0.22Z", "size": 400, "filled": true, "fill": "white", "stroke": "#808080", "strokeWidth": 0.4, "opacity": 1},
             "encoding": {"x": {"field": "c", "type": "quantitative"}, "y": {"field": "mean", "type": "quantitative"}}},
            {"data": {"name": "stats"}, "transform": [{"filter": "datum.p == 'c' && datum.g == 1"}],
             "mark": {"type": "text", "dx": 10.8, "dy": -5.6, "fontSize": 4.2, "align": "center", "baseline": "middle", "color": "#000000"},
             "encoding": {"x": {"field": "c", "type": "quantitative"}, "y": {"field": "mean", "type": "quantitative"}, "text": {"field": "lab"}}},
            {"data": {"name": "stats"}, "transform": [{"filter": "datum.p == 'c' && datum.g == 2"}],
             "mark": {"type": "point", "shape": "M-2.1,0.27L-0.08,0.27L-0.08,0.95L-2.1,0.95Z", "size": 400, "filled": true, "fill": "white", "stroke": "#808080", "strokeWidth": 0.4, "opacity": 1},
             "encoding": {"x": {"field": "c", "type": "quantitative"}, "y": {"field": "mean", "type": "quantitative"}}},
            {"data": {"name": "stats"}, "transform": [{"filter": "datum.p == 'c' && datum.g == 2"}],
             "mark": {"type": "text", "dx": -10.9, "dy": 6.1, "fontSize": 4.2, "align": "center", "baseline": "middle", "color": "#000000"},
             "encoding": {"x": {"field": "c", "type": "quantitative"}, "y": {"field": "mean", "type": "quantitative"}, "text": {"field": "lab"}}},
            {"transform": [{"filter": "datum.p == 'c'"}],
             "mark": {"type": "text", "fontSize": 4.3, "color": "#000000", "align": "left", "baseline": "middle"},
             "encoding": {"x": {"datum": 0.4, "type": "quantitative"}, "y": {"datum": 95.25, "type": "quantitative"}, "text": {"field": "sub"}}},
            {"transform": [{"filter": "datum.p == 'c'"}],
             "mark": {"type": "point", "shape": "M-1,-0.7826L1,-0.7826L1,0.7826L-1,0.7826Z", "size": 529, "filled": true, "color": "#1a1a1a", "opacity": 1},
             "encoding": {"x": {"datum": 0.3584, "type": "quantitative"}, "y": {"datum": -15.6, "type": "quantitative"}}},
            {"transform": [{"filter": "datum.p == 'c'"}],
             "mark": {"type": "text", "fontSize": 17, "color": "white", "align": "center", "baseline": "middle"},
             "encoding": {"x": {"datum": 0.3584, "type": "quantitative"}, "y": {"datum": -15.6, "type": "quantitative"}, "text": {"field": "tag"}}},
            {"transform": [{"filter": "datum.p == 'c'"}],
             "mark": {"type": "text", "fontSize": 3.4, "color": "#000000", "align": "right", "baseline": "middle"},
             "encoding": {"x": {"datum": 2.6, "type": "quantitative"}, "y": {"datum": -15.79, "type": "quantitative"}, "text": {"field": "caption"}}},
            {"transform": [{"filter": "datum.p == 'c'"}],
             "mark": {"type": "rule", "stroke": "#333333", "strokeWidth": 1.2},
             "encoding": {"x": {"datum": -0.8985, "type": "quantitative"}, "y": {"datum": 98.01, "type": "quantitative"}, "y2": {"datum": -18.63}}}
          ]
        }
      ],
      "spacing": 42,
      "bounds": "flush"
    }
  ],
  "spacing": 0
}
